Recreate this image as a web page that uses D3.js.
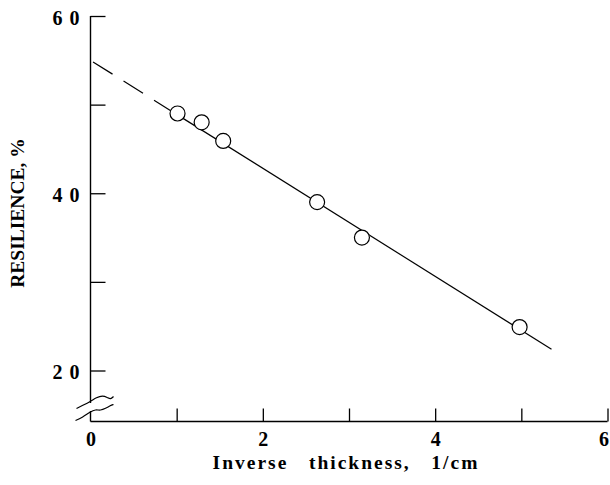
<!DOCTYPE html>
<html><head><meta charset="utf-8">
<script src="https://cdn.jsdelivr.net/npm/d3@7"></script>
<style>
html,body{margin:0;padding:0;background:#fff;}
svg{display:block;}
text{font-family:"Liberation Serif","Times New Roman",serif;font-weight:bold;fill:#000;}
</style></head>
<body>
<svg id="chart" width="610" height="485"></svg>
<script>
// ---- data ----
const thickness = [1.01, 1.29, 1.54, 2.63, 3.15, 4.98];      // 1/cm
const resilience = [49.0, 48.0, 45.9, 39.0, 35.0, 24.9];       // %
const dashedFitX = [0, 1.0];
const dashedFitY = [55.0, 48.9];
const solidFitX = [1.0, 5.35];
const solidFitY = [48.9, 22.4];
const xTicks = [0, 1, 2, 3, 4, 5, 6];
const xTickLabels = ["0", "", "2", "", "4", "", "6"];
const yTicks = [20, 30, 40, 50, 60];
const yTickLabels = ["2 0", "", "4 0", "", "6 0"];
const xTitle = "Inverse   thickness,   1/cm";
const yTitle = "RESILIENCE, %";

// ---- layout ----
const svg = d3.select("#chart");
const x0 = 90.5, x6 = 607.5;
const y60 = 16, y20 = 370.5;
const x = d3.scaleLinear().domain([0, 6]).range([x0, x6]);
const y = d3.scaleLinear().domain([20, 60]).range([y20, y60]);
const yBottom = 421.5;

// y axis ticks (inward)
const yAxis = d3.axisLeft(y).tickValues(yTicks)
  .tickFormat((d, i) => yTickLabels[i]).tickSizeInner(-15).tickSizeOuter(0).tickPadding(10);
const gy = svg.append("g").attr("transform", `translate(${x0},0)`).call(yAxis);
gy.select(".domain").remove();
gy.selectAll(".tick line").attr("stroke", "#000").attr("stroke-width", 1.3);
gy.selectAll(".tick text").attr("font-size", 20).attr("font-family", "Liberation Serif")
  .attr("font-weight", "bold").attr("dy", "0.42em").attr("letter-spacing", "1px");

// x axis ticks (inward)
const xAxis = d3.axisBottom(x).tickValues(xTicks)
  .tickFormat((d, i) => xTickLabels[i]).tickSizeInner(-13).tickSizeOuter(0).tickPadding(10);
const gx = svg.append("g").attr("transform", `translate(0,${yBottom})`).call(xAxis);
gx.select(".domain").remove();
gx.selectAll(".tick line").attr("stroke", "#000").attr("stroke-width", 1.3);
gx.selectAll(".tick").filter(d => d === 0).select("line").remove();
gx.selectAll(".tick text").attr("font-size", 20).attr("font-family", "Liberation Serif")
  .attr("font-weight", "bold");
gx.selectAll(".tick").filter(d => d === 6).select("text").attr("dx", -4);

// axis lines with break
svg.append("line").attr("x1", x0).attr("x2", x0).attr("y1", y60).attr("y2", 403)
  .attr("stroke", "#000").attr("stroke-width", 1.4);
svg.append("line").attr("x1", x0).attr("x2", x0).attr("y1", 411).attr("y2", yBottom)
  .attr("stroke", "#000").attr("stroke-width", 1.4);
svg.append("line").attr("x1", x0).attr("x2", x(6)).attr("y1", yBottom).attr("y2", yBottom)
  .attr("stroke", "#000").attr("stroke-width", 1.4);

// break marks (decorative squiggles, relative to axis origin)
const squiggle = d3.line().curve(d3.curveBasis);
const sq1 = [[-14, -13], [-8, -16], [0, -20], [6, -24], [12, -26], [17, -24], [20, -22], [23, -25]];
const sq2 = [[-15, -1], [-8, -4], [0, -10], [5, -12], [10, -11], [15, -13], [20, -16], [23, -17]];
[sq1, sq2].forEach(s => {
  svg.append("path")
    .attr("d", squiggle(s.map(p => [x0 + p[0], yBottom + p[1]])))
    .attr("fill", "none").attr("stroke", "#000").attr("stroke-width", 1.2);
});

// fit line
const lineGen = d3.line().x(d => x(d[0])).y(d => y(d[1]));
svg.append("path").attr("d", lineGen(d3.zip(dashedFitX, dashedFitY)))
  .attr("fill", "none").attr("stroke", "#000").attr("stroke-width", 1.2)
  .attr("stroke-dasharray", "23,13").attr("stroke-dashoffset", -3);
svg.append("path").attr("d", lineGen(d3.zip(solidFitX, solidFitY)))
  .attr("fill", "none").attr("stroke", "#000").attr("stroke-width", 1.2);

// data points
svg.append("g").selectAll("circle").data(d3.zip(thickness, resilience)).join("circle")
  .attr("cx", d => x(d[0])).attr("cy", d => y(d[1])).attr("r", 7.5)
  .attr("fill", "#fff").attr("stroke", "#000").attr("stroke-width", 1.2);

// titles
svg.append("text").attr("x", 346).attr("y", 469).attr("text-anchor", "middle")
  .attr("font-size", 19.5).attr("letter-spacing", "2px")
  .style("white-space", "pre").text(xTitle);
svg.append("text").attr("transform", "translate(24,213) rotate(-90)")
  .attr("text-anchor", "middle").attr("font-size", 19.5).text(yTitle);
</script>
</body></html>
